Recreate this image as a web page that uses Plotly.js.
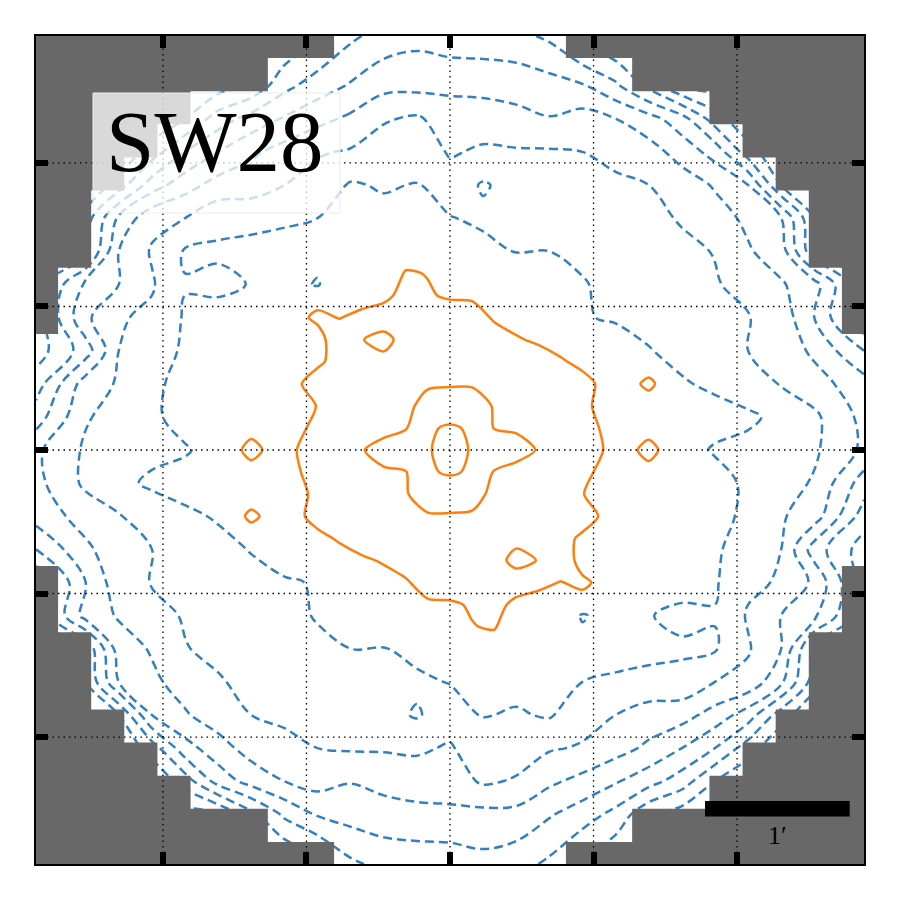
<!DOCTYPE html>
<html><head><meta charset="utf-8">
<script src="https://cdn.plot.ly/plotly-3.0.1.min.js"></script>
<style>html,body{margin:0;padding:0;background:#fff}</style>
</head><body>
<div id="chart" style="width:900px;height:900px"></div>
<script>
// Map in pixel units (75 x 75 map pixels, origin top-left); ~13 map pixels = 1 arcmin
const tickVals = [11.5, 24.5, 37.5, 50.5, 63.5];
const arcminPx = 13.1;

// Coarse map grid (negative significance levels, blue dashed)
const coarseX = [0,4.5,7.5,10.5,13.5,16.5,19.5,22.5,25.5,28.5,31.5,34.5,37.5,40.5,43.5,46.5,49.5,52.5,55.5,58.5,61.5,64.5,67.5,70.5,75];
const coarseY = [0,4.5,7.5,10.5,13.5,16.5,19.5,22.5,25.5,28.5,31.5,34.5,37.5,40.5,43.5,46.5,49.5,52.5,55.5,58.5,61.5,64.5,67.5,70.5,75];
const coarseZ = [
[-9,-9,-9,-9,-8.5,-8,-7.5,-7,-6.2,-5.2,-4.6,-4.3,-4.6,-4.6,-4.7,-5.2,-6.5,-7.2,-8,-9,-9,-9,-9,-9,-9],
[-9,-9,-9,-8.5,-8,-7.5,-6.8,-5.3,-4.5,-3.9,-3.3,-3.3,-3.2,-3.3,-3.4,-3.6,-3.9,-4.8,-6.3,-8,-8.5,-9,-9,-9,-9],
[-9,-9,-8.5,-8,-7,-5.5,-4.6,-3.9,-3.3,-2.8,-2.1,-1.85,-2.55,-2.5,-2.7,-2.95,-2.6,-3.0,-3.6,-4.6,-6.5,-8,-8.5,-9,-9],
[-9,-8.5,-8,-6.5,-5,-4.0,-3.2,-2.6,-2.1,-1.9,-1.5,-1.4,-2.1,-1.85,-1.9,-1.9,-2.0,-2.3,-2.6,-3.4,-4.4,-6.5,-8,-8.5,-9],
[-8.5,-8,-6.5,-4.5,-3.4,-2.6,-2.4,-2.0,-1.6,-0.9,-1.1,-0.95,-1.55,-0.9,-1.35,-1.5,-1.6,-1.8,-2.0,-2.5,-3.1,-4.0,-7,-8,-8.5],
[-8,-6.5,-3.8,-2.3,-2.0,-1.3,-1.4,-1.2,-1.0,-0.6,-0.7,-0.6,-0.95,-1.2,-1.25,-1.3,-1.35,-1.5,-1.7,-2.1,-2.6,-3.2,-4.0,-7,-8],
[-8,-6.3,-3.0,-1.9,-0.9,-0.85,-0.6,-0.5,-0.6,-0.2,0.0,0.4,-0.15,-0.7,-1.05,-1.0,-1.15,-1.25,-1.5,-1.75,-2.05,-2.9,-3.5,-6.8,-8],
[-6.5,-3.8,-3.0,-2.1,-1.05,-1.25,-0.95,-0.5,-1.1,0.3,0.7,1.1,0.6,0.4,0.2,-0.5,-0.95,-1.2,-1.35,-1.6,-1.9,-2.4,-2.9,-3.6,-7],
[-6.5,-3.2,-2.1,-1.8,-0.9,-0.6,-0.4,-0.2,0.9,1.2,1.3,1.35,1.2,0.95,0.7,0.2,-0.9,-1.15,-1.3,-1.5,-1.8,-1.95,-2.4,-4.0,-7],
[-6.5,-4.5,-2.0,-1.5,-0.85,-0.5,-0.2,0.4,1.3,1.4,1.5,1.6,1.55,1.5,1.3,0.9,0.5,-0.3,-0.95,-1.3,-1.6,-2.0,-2.4,-3.2,-5.0],
[-5.5,-2.5,-1.9,-1.2,-0.7,-0.3,0.2,0.7,1.3,1.5,1.7,1.9,1.95,1.9,1.7,1.4,1.05,0.2,-0.3,-0.9,-1.2,-1.7,-2.05,-2.6,-3.6],
[-4.5,-2.1,-1.6,-1.2,-0.6,-0.2,0.3,0.7,1.1,1.5,1.7,2.1,2.75,2.2,1.8,1.6,1.2,0.75,0.3,-0.2,-0.6,-0.8,-1.3,-1.8,-3.3],
[-3.2,-1.85,-1.5,-1.3,-1.1,-0.6,0.1,0.8,1.3,1.7,2.2,2.6,3.6,2.6,2.2,1.7,1.3,0.8,0.1,-0.6,-1.1,-1.3,-1.5,-1.85,-3.2],
[-3.3,-1.8,-1.3,-0.8,-0.6,-0.2,0.3,0.75,1.2,1.6,1.8,2.2,2.75,2.1,1.7,1.5,1.1,0.7,0.3,-0.2,-0.6,-1.2,-1.6,-2.1,-4.5],
[-3.6,-2.6,-2.05,-1.7,-1.2,-0.9,-0.3,0.2,1.05,1.4,1.7,1.9,1.95,1.9,1.7,1.5,1.3,0.7,0.2,-0.3,-0.7,-1.2,-1.9,-2.5,-5.5],
[-5.0,-3.2,-2.4,-2.0,-1.6,-1.3,-0.95,-0.3,0.5,0.9,1.3,1.5,1.55,1.6,1.5,1.4,1.3,0.4,-0.2,-0.5,-0.85,-1.5,-2.0,-4.5,-6.5],
[-7,-4.0,-2.4,-1.95,-1.8,-1.5,-1.3,-1.15,-0.9,0.2,0.7,0.95,1.2,1.35,1.3,1.2,0.9,-0.2,-0.4,-0.6,-0.9,-1.8,-2.1,-3.2,-6.5],
[-7,-3.6,-2.9,-2.4,-1.9,-1.6,-1.35,-1.2,-0.95,-0.5,0.2,0.4,0.6,1.1,0.7,0.3,-1.1,-0.5,-0.95,-1.25,-1.05,-2.1,-3.0,-3.8,-6.5],
[-8,-6.8,-3.5,-2.9,-2.05,-1.75,-1.5,-1.25,-1.15,-1.0,-1.05,-0.7,-0.15,0.4,0.0,-0.2,-0.6,-0.5,-0.6,-0.85,-0.9,-1.9,-3.0,-6.3,-8],
[-8,-7,-4.0,-3.2,-2.6,-2.1,-1.7,-1.5,-1.35,-1.3,-1.25,-1.2,-0.95,-0.6,-0.7,-0.6,-1.0,-1.2,-1.4,-1.3,-2.0,-2.3,-3.8,-6.5,-8],
[-8.5,-8,-7,-4.0,-3.1,-2.5,-2.0,-1.8,-1.6,-1.5,-1.35,-0.9,-1.55,-0.95,-1.1,-0.9,-1.6,-2.0,-2.4,-2.6,-3.4,-4.5,-6.5,-8,-8.5],
[-9,-8.5,-8,-6.5,-4.4,-3.4,-2.6,-2.3,-2.0,-1.9,-1.9,-1.85,-2.1,-1.4,-1.5,-1.9,-2.1,-2.6,-3.2,-4.0,-5,-6.5,-8,-8.5,-9],
[-9,-9,-8.5,-8,-6.5,-4.6,-3.6,-3.0,-2.6,-2.95,-2.7,-2.5,-2.55,-1.85,-2.1,-2.8,-3.3,-3.9,-4.6,-5.5,-7,-8,-8.5,-9,-9],
[-9,-9,-9,-9,-8.5,-8,-6.3,-4.8,-3.9,-3.6,-3.4,-3.3,-3.2,-3.3,-3.3,-3.9,-4.5,-5.3,-6.8,-7.5,-8,-8.5,-9,-9,-9],
[-9,-9,-9,-9,-9,-9,-8,-7.2,-6.5,-5.2,-4.7,-4.6,-4.6,-4.3,-4.6,-5.2,-6.2,-7,-7.5,-8,-8.5,-9,-9,-9,-9]
];

// Fine central grid (positive levels, orange solid)
const fineX = [17.5,19.5,21.5,23.5,25.5,27.5,29.5,31.5,33.5,35.5,37.5,39.5,41.5,43.5,45.5,47.5,49.5,51.5,53.5,55.5,57.5];
const fineY = [19.5,21.5,23.5,25.5,27.5,29.5,31.5,33.5,35.5,37.5,39.5,41.5,43.5,45.5,47.5,49.5,51.5,53.5,55.5];
const fineZ = [
[0.45,0.5,0.5,0.5,0.5,0.5,0.5,0.55,0.7,0.7,0.6,0.5,0.5,0.5,0.5,0.5,0.5,0.5,0.5,0.5,0.45],
[0.45,0.5,0.5,0.5,0.55,0.55,0.55,0.6,1.05,0.98,0.7,0.6,0.55,0.5,0.5,0.5,0.5,0.5,0.5,0.5,0.45],
[0.45,0.5,0.5,0.65,0.8,0.75,0.75,0.85,1.2,1.05,0.93,0.93,0.8,0.7,0.6,0.5,0.5,0.5,0.5,0.5,0.45],
[0.45,0.5,0.6,0.85,1.1,0.98,1.15,1.3,1.4,1.35,1.3,1.2,0.95,0.8,0.7,0.6,0.5,0.5,0.5,0.5,0.45],
[0.4,0.45,0.5,0.6,0.8,1.35,1.95,2.4,1.5,1.5,1.45,1.4,1.2,1.05,0.92,0.75,0.65,0.55,0.5,0.5,0.5],
[0.45,0.5,0.55,0.7,0.9,1.2,1.55,1.65,1.7,1.75,1.75,1.7,1.55,1.4,1.25,1.07,0.85,0.7,0.6,0.55,0.5],
[0.45,0.5,0.6,0.9,1.25,1.45,1.6,1.75,1.85,1.9,1.92,1.93,1.85,1.7,1.55,1.4,1.2,0.85,0.7,1.18,0.55],
[0.45,0.5,0.6,0.75,1.02,1.3,1.5,1.7,1.8,2.3,2.45,2.35,1.95,1.75,1.6,1.4,1.15,0.8,0.65,0.6,0.5],
[0.5,0.7,0.65,0.85,1.15,1.4,1.6,1.75,1.95,2.9,3.1,2.9,1.97,1.9,1.75,1.55,1.3,0.9,0.7,0.65,0.5],
[0.6,1.3,0.7,0.98,1.3,1.55,1.95,2.3,2.45,2.85,3.7,2.85,2.45,2.3,1.95,1.55,1.3,0.98,0.7,1.3,0.6],
[0.5,0.65,0.7,0.9,1.3,1.55,1.75,1.9,1.97,2.9,3.1,2.9,1.95,1.75,1.6,1.4,1.15,0.85,0.65,0.7,0.5],
[0.5,0.6,0.65,0.8,1.15,1.4,1.6,1.75,1.95,2.35,2.45,2.3,1.8,1.7,1.5,1.3,1.02,0.75,0.6,0.5,0.45],
[0.55,1.18,0.7,0.85,1.2,1.4,1.55,1.7,1.85,1.93,1.92,1.9,1.85,1.75,1.6,1.45,1.25,0.9,0.6,0.5,0.45],
[0.5,0.55,0.6,0.7,0.85,1.07,1.25,1.4,1.55,1.7,1.75,1.75,1.7,1.65,1.55,1.2,0.9,0.7,0.55,0.5,0.45],
[0.5,0.5,0.5,0.55,0.65,0.75,0.92,1.05,1.2,1.4,1.45,1.5,1.5,2.4,1.95,1.35,0.8,0.6,0.5,0.45,0.4],
[0.45,0.5,0.5,0.5,0.5,0.6,0.7,0.8,0.95,1.2,1.3,1.35,1.4,1.3,1.15,0.98,1.1,0.85,0.6,0.5,0.45],
[0.45,0.5,0.5,0.5,0.5,0.5,0.6,0.7,0.8,0.93,0.93,1.05,1.2,0.85,0.75,0.75,0.8,0.65,0.5,0.5,0.45],
[0.45,0.5,0.5,0.5,0.5,0.5,0.5,0.5,0.55,0.6,0.7,0.98,1.05,0.6,0.55,0.55,0.55,0.5,0.5,0.5,0.45],
[0.45,0.5,0.5,0.5,0.5,0.5,0.5,0.5,0.5,0.5,0.6,0.7,0.7,0.55,0.5,0.5,0.5,0.5,0.5,0.5,0.45]
];

// Survey mask: unmasked span [left, right] for each band of map rows
const maskEdges = [0,2,5,8,11,14,21,27,48,54,61,64,67,70,73,75];
const maskLeft  = [27,21,14,11,8,5,2,0,2,5,8,11,14,21,27];
const maskRight = [48,54,61,64,67,70,73,75,73,70,67,64,61,54,48];

function maskPolygon(bounds, outer) {
  const xs = [outer], ys = [0];
  for (let b = 0; b < bounds.length; b++) {
    xs.push(bounds[b], bounds[b]);
    ys.push(maskEdges[b], maskEdges[b + 1]);
  }
  xs.push(outer); ys.push(75);
  return {xs, ys};
}
const mL = maskPolygon(maskLeft, 0);
const mR = maskPolygon(maskRight, 75);
const maskGrey = '#686868';

const traces = [
  {type:'contour', x:coarseX, y:coarseY, z:coarseZ, autocontour:false,
   contours:{coloring:'none', start:-8, end:-1, size:1, showlines:true},
   line:{color:'#3480bf', width:2.5, dash:'9px,5px', smoothing:1},
   showscale:false, hoverinfo:'skip'},
  {type:'contour', x:fineX, y:fineY, z:fineZ, autocontour:false,
   contours:{coloring:'none', start:1, end:3, size:1, showlines:true},
   line:{color:'#ff7f0e', width:2.5, smoothing:0.8},
   showscale:false, hoverinfo:'skip'},
  {type:'scatter', mode:'lines', x:mL.xs, y:mL.ys, fill:'toself', fillcolor:maskGrey,
   line:{width:0, color:maskGrey}, hoverinfo:'skip', showlegend:false},
  {type:'scatter', mode:'lines', x:mR.xs, y:mR.ys, fill:'toself', fillcolor:maskGrey,
   line:{width:0, color:maskGrey}, hoverinfo:'skip', showlegend:false}
];

const gridStyle = {color:'black', width:1.3, dash:'1.5px,4px'};
const shapes = [];
tickVals.forEach(t => {
  shapes.push({type:'line', xref:'x', yref:'paper', x0:t, x1:t, y0:0, y1:1, line:gridStyle, layer:'above'});
  shapes.push({type:'line', xref:'paper', yref:'y', x0:0, x1:1, y0:t, y1:t, line:gridStyle, layer:'above'});
});
// label box (semi-transparent white, over contours, mask and grid)
shapes.push({type:'rect', xref:'x', yref:'y', x0:5.16, x1:27.54, y0:5.16, y1:16.03,
  fillcolor:'rgba(255,255,255,0.75)', line:{color:'rgba(236,236,236,1)', width:1}, layer:'above'});
// 1 arcmin scale bar
const barX0 = 60.6, barY = 70;
shapes.push({type:'rect', xref:'x', yref:'y', x0:barX0, x1:barX0 + arcminPx, y0:barY - 0.7, y1:barY + 0.7,
  fillcolor:'black', line:{width:0}, layer:'above'});

const axisBase = {showgrid:false, zeroline:false, showline:true, linecolor:'black', linewidth:2,
  mirror:'ticks', ticks:'inside', ticklen:12, tickwidth:6, tickcolor:'black',
  tickmode:'array', tickvals:tickVals, showticklabels:false, fixedrange:true};

const layout = {
  width:900, height:900,
  margin:{l:36, r:36, t:36, b:36, pad:0},
  paper_bgcolor:'white', plot_bgcolor:'white',
  showlegend:false,
  xaxis:Object.assign({}, axisBase, {range:[0,75]}),
  yaxis:Object.assign({}, axisBase, {range:[75,0]}),
  shapes:shapes,
  annotations:[
    {text:'SW28', xref:'x', yref:'y', x:16.25, y:9.56, showarrow:false,
     xanchor:'center', yanchor:'middle',
     font:{family:'Liberation Serif', size:87, color:'black'}},
    {text:'1\u2032', xref:'x', yref:'y', x:barX0 + arcminPx/2, y:72.4, showarrow:false,
     xanchor:'center', yanchor:'middle',
     font:{family:'Liberation Serif', size:26, color:'black'}}
  ]
};

Plotly.newPlot('chart', traces, layout, {staticPlot:true, displayModeBar:false});
</script>
</body></html>
